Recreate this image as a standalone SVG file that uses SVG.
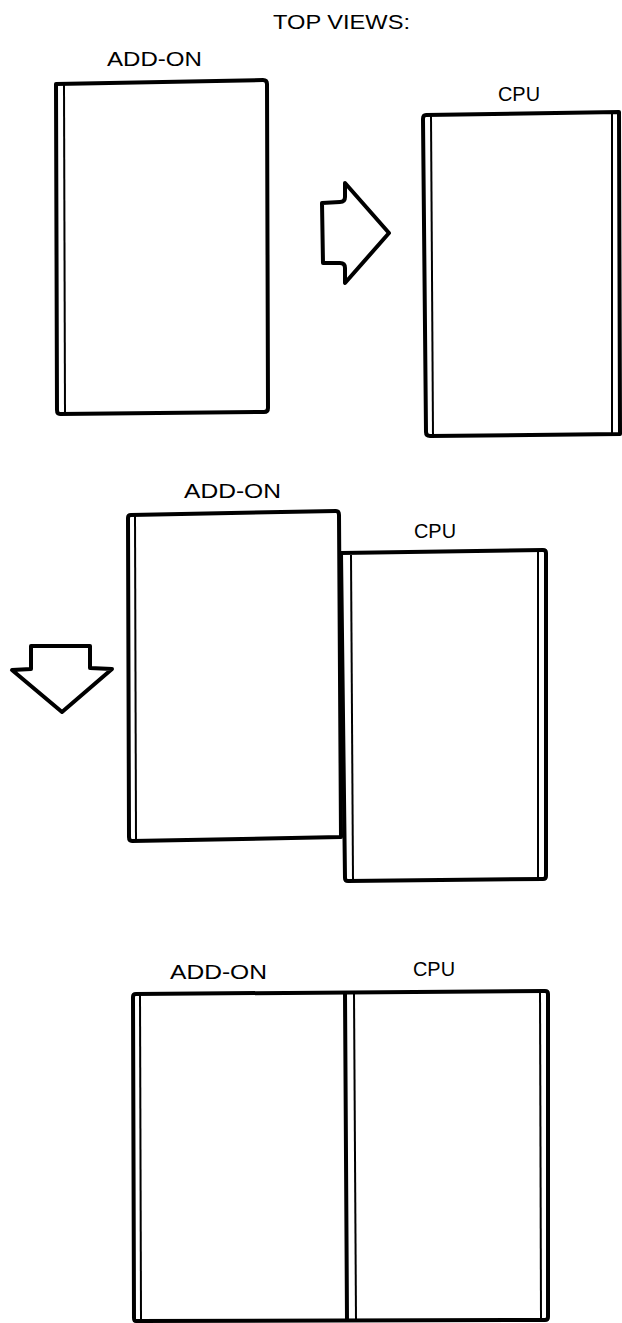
<svg xmlns="http://www.w3.org/2000/svg" width="622" height="1323" viewBox="0 0 622 1323">
<style>
.o{fill:none;stroke:#000;stroke-width:4;stroke-linejoin:round;stroke-linecap:round}
.i{fill:none;stroke:#000;stroke-width:2}
.t{font-family:"Liberation Sans",Arial,sans-serif;font-size:21px;fill:#000}
</style>
<rect width="622" height="1323" fill="#fff"/>
<text class="t" x="273" y="29" textLength="137" lengthAdjust="spacingAndGlyphs">TOP VIEWS:</text>
<g id="addon1">
<text class="t" x="107" y="66" textLength="95" lengthAdjust="spacingAndGlyphs">ADD-ON</text>
<path class="o" d="M56,84 L263,80 Q267,80 267,84 L268,408 Q268,412 264,412 L60,414 Q57,414 57,410 Z"/>
<line class="i" x1="64" y1="85" x2="65" y2="413"/>
</g>
<g id="cpu1">
<text class="t" x="498" y="101" textLength="42" lengthAdjust="spacingAndGlyphs">CPU</text>
<path class="o" d="M426,115 L619,112 L620,434 L430,436 Q426,436 426,432 L423,119 Q423,115 426,115 Z"/>
<line class="i" x1="431" y1="116" x2="433" y2="435"/>
<line class="i" x1="612" y1="113" x2="612" y2="434"/>
</g>
<g id="arrow-right">
<path class="o" d="M322,203 L340,202 Q345,202 345,197 L345,183 L389,233 L345,283 L345,268 Q345,263 340,263 L323,263 Z"/>
</g>
<g id="addon2">
<text class="t" x="184" y="498" textLength="97" lengthAdjust="spacingAndGlyphs">ADD-ON</text>
<path class="o" d="M131,515 L336,511 Q339,511 339,515 L341,837 L132,841 Q129,841 129,837 L128,518 Q128,515 131,515 Z"/>
<line class="i" x1="135" y1="516" x2="136" y2="840"/>
</g>
<g id="cpu2">
<text class="t" x="414" y="538" textLength="42" lengthAdjust="spacingAndGlyphs">CPU</text>
<path class="o" d="M341,553 L543,550 Q546,550 546,553 L546,876 Q546,879 543,879 L348,881 Q345,881 345,878 L341,553"/>
<line class="i" x1="351" y1="555" x2="353" y2="880"/>
<line class="i" x1="538" y1="551" x2="538" y2="879"/>
</g>
<g id="arrow-down">
<path class="o" d="M31,646 L90,646 L90,668 L112,669 L62,712 L12,670 L31,669 Z"/>
</g>
<g id="addon3">
<text class="t" x="170" y="979" textLength="97" lengthAdjust="spacingAndGlyphs">ADD-ON</text>
<path class="o" d="M136,994 L545,991 Q548,991 548,994 L548,1317 Q548,1320 545,1320 L136,1321 Q134,1321 134,1318 L133,997 Q133,994 136,994 Z"/>
<line class="i" x1="140" y1="995" x2="141" y2="1320"/>
<line class="o" x1="345" y1="993" x2="347" y2="1320"/>
</g>
<g id="cpu3">
<text class="t" x="413" y="976" textLength="42" lengthAdjust="spacingAndGlyphs">CPU</text>
<line class="i" x1="354" y1="993" x2="356" y2="1320"/>
<line class="i" x1="540" y1="992" x2="541" y2="1320"/>
</g>
</svg>
